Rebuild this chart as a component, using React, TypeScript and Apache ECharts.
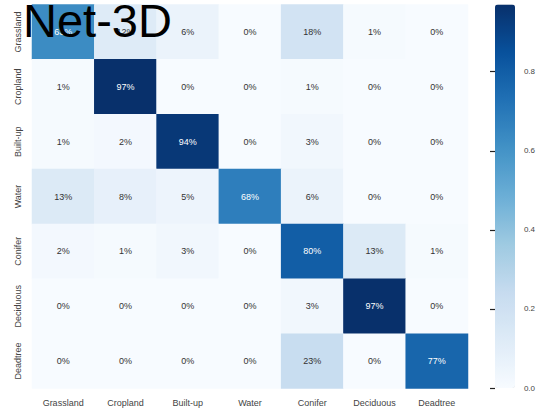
import React, { useEffect, useRef } from "react";
import * as echarts from "echarts";

const classes = ["Grassland", "Cropland", "Built-up", "Water", "Conifer", "Deciduous", "Deadtree"];
const rowGrassland = [0.63, 0.12, 0.06, 0.0, 0.18, 0.01, 0.0];
const rowCropland = [0.01, 0.97, 0.0, 0.0, 0.01, 0.0, 0.0];
const rowBuiltup = [0.01, 0.02, 0.94, 0.0, 0.03, 0.0, 0.0];
const rowWater = [0.13, 0.08, 0.05, 0.68, 0.06, 0.0, 0.0];
const rowConifer = [0.02, 0.01, 0.03, 0.0, 0.8, 0.13, 0.01];
const rowDeciduous = [0.0, 0.0, 0.0, 0.0, 0.03, 0.97, 0.0];
const rowDeadtree = [0.0, 0.0, 0.0, 0.0, 0.23, 0.0, 0.77];
const rows = [rowGrassland, rowCropland, rowBuiltup, rowWater, rowConifer, rowDeciduous, rowDeadtree];
const colorbarTicks = [0, 0.2, 0.4, 0.6, 0.8];
const title = "Net-3D";

const blues = ["#f7fbff", "#deebf7", "#c6dbef", "#9ecae1", "#6baed6", "#4292c6", "#2171b5", "#08519c", "#08306b"];

export default function App() {
  const ref = useRef<HTMLDivElement>(null);
  useEffect(() => {
    document.body.style.margin = "0";
    const chart = echarts.init(ref.current!, null, { renderer: "svg" });
    const vmax = Math.max(...rows.flat());
    const data: any[] = [];
    rows.forEach((r, i) =>
      r.forEach((v, j) => {
        data.push({
          value: [j, i, v],
          label: { color: v > 0.5 ? "#ffffff" : "#333333" },
        });
      })
    );
    const font = "'Liberation Sans', Arial, sans-serif";
    chart.setOption({
      animation: false,
      backgroundColor: "#ffffff",
      title: {
        text: title,
        left: 18,
        top: -8,
        z: 10,
        textStyle: { fontSize: 47, fontWeight: "normal", color: "#000", fontFamily: font },
      },
      grid: [
        { left: 32, right: 70, top: 4.5, bottom: 23.5 },
        { left: 495, width: 20, top: 4.5, bottom: 24 },
      ],
      xAxis: [
        {
          type: "category",
          data: classes,
          gridIndex: 0,
          axisLine: { show: false },
          axisTick: { show: false },
          splitLine: { show: false },
          axisLabel: { interval: 0, fontSize: 9, color: "#444", margin: 10, fontFamily: font },
        },
        { type: "value", gridIndex: 1, show: false, min: 0, max: 1 },
      ],
      yAxis: [
        {
          type: "category",
          data: classes,
          inverse: true,
          gridIndex: 0,
          axisLine: { show: false },
          axisTick: { show: false },
          splitLine: { show: false },
          axisLabel: { interval: 0, fontSize: 9, color: "#444", rotate: 90, margin: 10, fontFamily: font },
        },
        {
          type: "value",
          gridIndex: 1,
          position: "right",
          offset: 0,
          min: 0,
          max: vmax,
          interval: 0.2,
          z: 10,
          axisLine: { show: true, lineStyle: { color: "rgba(0,0,0,0)" } },
          axisTick: { show: true, inside: true, length: 5, lineStyle: { color: "#222", width: 1.2 } },
          splitLine: { show: false },
          axisLabel: {
            fontSize: 8,
            color: "#444",
            margin: 12,
            fontFamily: font,
            showMaxLabel: false,
            formatter: (v: number) => (colorbarTicks.some((t) => Math.abs(t - v) < 1e-6) ? v.toFixed(1) : ""),
          },
        },
      ],
      visualMap: {
        type: "continuous",
        min: 0,
        max: vmax,
        seriesIndex: 0,
        calculable: false,
        left: 495,
        top: 4.5,
        itemWidth: 20,
        itemHeight: 383.5,
        padding: 0,
        text: ["", ""],
        showLabel: false,
        inRange: { color: blues },
      },
      series: [
        {
          type: "heatmap",
          xAxisIndex: 0,
          yAxisIndex: 0,
          data,
          label: {
            show: true,
            fontSize: 9,
            fontFamily: font,
            formatter: (p: any) => Math.round(p.value[2] * 100) + "%",
          },
          emphasis: { disabled: true },
          itemStyle: { borderWidth: 0 },
        },
      ],
    });
    return () => chart.dispose();
  }, []);
  return <div ref={ref} style={{ width: 538, height: 412 }} />;
}
